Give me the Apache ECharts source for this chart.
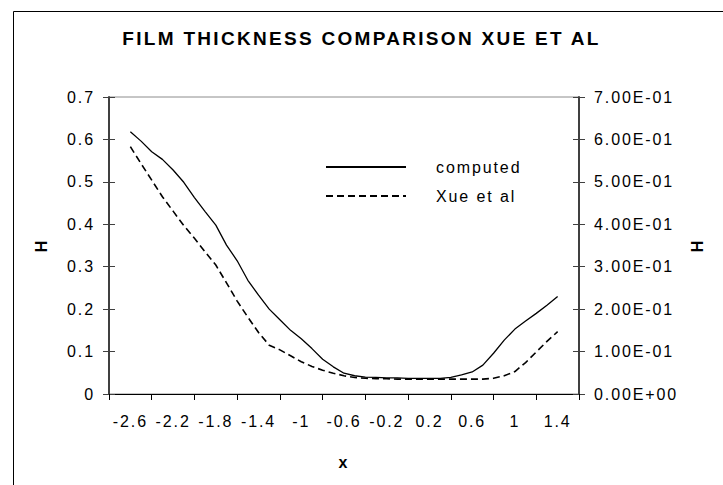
<!DOCTYPE html>
<html>
<head>
<meta charset="utf-8">
<script src="https://cdn.jsdelivr.net/npm/echarts@6/dist/echarts.min.js"></script>
<style>
html,body{margin:0;padding:0;background:#fff;}
#chart{width:723px;height:485px;}
#chart text{letter-spacing:1.9px;}
#chart text[style*="19px"]{letter-spacing:2.3px;}
</style>
</head>
<body>
<div id="chart"></div>
<script>
// x positions of the data points
const xValues = [-2.6,-2.5,-2.4,-2.3,-2.2,-2.1,-2.0,-1.9,-1.8,-1.7,-1.6,-1.5,-1.4,-1.3,-1.2,-1.1,-1.0,-0.9,-0.8,-0.7,-0.6,-0.5,-0.4,-0.3,-0.2,-0.1,0.0,0.1,0.2,0.3,0.4,0.5,0.6,0.7,0.8,0.9,1.0,1.1,1.2,1.3,1.4];
// computed film thickness
const computed = [0.618,0.596,0.571,0.553,0.528,0.499,0.463,0.430,0.398,0.351,0.314,0.268,0.233,0.200,0.175,0.150,0.130,0.107,0.082,0.064,0.049,0.043,0.040,0.039,0.038,0.038,0.037,0.037,0.037,0.037,0.039,0.045,0.052,0.068,0.096,0.127,0.153,0.172,0.190,0.209,0.230];
// Xue et al film thickness
const xue = [0.583,0.543,0.504,0.465,0.431,0.397,0.367,0.335,0.304,0.262,0.219,0.181,0.145,0.115,0.104,0.090,0.076,0.065,0.056,0.049,0.043,0.039,0.037,0.036,0.036,0.035,0.035,0.035,0.035,0.035,0.035,0.035,0.035,0.035,0.037,0.043,0.053,0.074,0.099,0.124,0.147];
// x tick labels (centred between tick marks)
const xTickLabels = ['-2.6','-2.2','-1.8','-1.4','-1','-0.6','-0.2','0.2','0.6','1','1.4'];
const seriesNames = ['computed','Xue et al'];
const titleText = 'FILM THICKNESS COMPARISON XUE ET AL';

const FONT = 'Liberation Sans, Arial, sans-serif';
function sci(v){
  let s = Number(v).toExponential(2).toUpperCase();
  const m = s.match(/^(-?[\d.]+)E([+-])(\d+)$/);
  if(!m) return s;
  let e = m[3].length < 2 ? '0' + m[3] : m[3];
  return m[1] + 'E' + m[2] + e;
}
const pair = (xs, ys) => xs.map((x,i)=>[x, ys[i]]);

const chart = echarts.init(document.getElementById('chart'), null, {renderer:'svg'});
const yCommon = {type:'value', min:0, max:0.7, interval:0.1, splitLine:{show:false}};
chart.setOption({
  animation:false,
  backgroundColor:'#fff',
  title:{text:titleText, left:'center', top:24, textStyle:{fontFamily:FONT, fontWeight:'bold', fontSize:19, color:'#000'}},
  legend:{
    orient:'vertical', left:320, top:154, itemWidth:80, itemHeight:14, itemGap:13,
    data:seriesNames,
    itemStyle:{opacity:0},
    textStyle:{fontFamily:FONT, fontSize:16, color:'#000', padding:[0,0,5,25]}
  },
  grid:{left:109, right:144, top:97, bottom:91, show:true, borderColor:'#8c8c8c', borderWidth:1, backgroundColor:'transparent'},
  xAxis:[
    {type:'value', min:-2.8, max:1.6, interval:0.4, position:'bottom',
     axisLine:{show:true, onZero:false, lineStyle:{color:'#000', width:1}},
     axisTick:{show:true, inside:false, length:6, lineStyle:{color:'#000'}},
     axisLabel:{show:false}, splitLine:{show:false},
     name:'x', nameLocation:'middle', nameGap:60,
     nameTextStyle:{fontFamily:FONT, fontWeight:'bold', fontSize:16, color:'#000'}},
    {type:'category', data:xTickLabels, boundaryGap:true, position:'bottom',
     axisLine:{show:false, onZero:false}, axisTick:{show:false}, splitLine:{show:false},
     axisLabel:{interval:0, margin:19, fontFamily:FONT, fontSize:16, color:'#000'}}
  ],
  yAxis:[
    Object.assign({}, yCommon, {position:'left',
     axisLine:{show:true, onZero:false, lineStyle:{color:'#404040', width:2}},
     axisTick:{show:true, inside:false, length:6, lineStyle:{color:'#404040'}},
     axisLabel:{margin:14, fontFamily:FONT, fontSize:16, color:'#000'},
     name:'H', nameLocation:'middle', nameGap:60,
     nameTextStyle:{fontFamily:FONT, fontWeight:'bold', fontSize:16, color:'#000'}}),
    Object.assign({}, yCommon, {position:'left',
     axisLine:{show:false, onZero:false}, axisTick:{show:true, inside:true, length:6, lineStyle:{color:'#404040'}},
     axisLabel:{show:false}}),
    Object.assign({}, yCommon, {position:'right',
     axisLine:{show:true, onZero:false, lineStyle:{color:'#404040', width:2}},
     axisTick:{show:true, inside:false, length:6, lineStyle:{color:'#404040'}},
     axisLabel:{margin:15, fontFamily:FONT, fontSize:16, color:'#000', formatter:sci},
     name:'H', nameLocation:'middle', nameGap:110, nameRotate:90,
     nameTextStyle:{fontFamily:FONT, fontWeight:'bold', fontSize:16, color:'#000'}}),
    Object.assign({}, yCommon, {position:'right',
     axisLine:{show:false, onZero:false}, axisTick:{show:true, inside:true, length:6, lineStyle:{color:'#404040'}},
     axisLabel:{show:false}})
  ],
  graphic:[{type:'rect', left:11, top:9, shape:{width:760, height:520}, style:{fill:'none', stroke:'#000', lineWidth:1}, silent:true, z:-1}],
  series:[
    {name:seriesNames[0], type:'line', xAxisIndex:0, yAxisIndex:0, data:pair(xValues, computed),
     symbol:'none', smooth:false, lineStyle:{color:'#000', width:1.3, type:'solid'}, itemStyle:{color:'#000'}},
    {name:seriesNames[1], type:'line', xAxisIndex:0, yAxisIndex:0, data:pair(xValues, xue),
     symbol:'none', smooth:false, lineStyle:{color:'#000', width:1.6, type:[7,4]}, itemStyle:{color:'#000'}}
  ]
});
</script>
</body>
</html>
